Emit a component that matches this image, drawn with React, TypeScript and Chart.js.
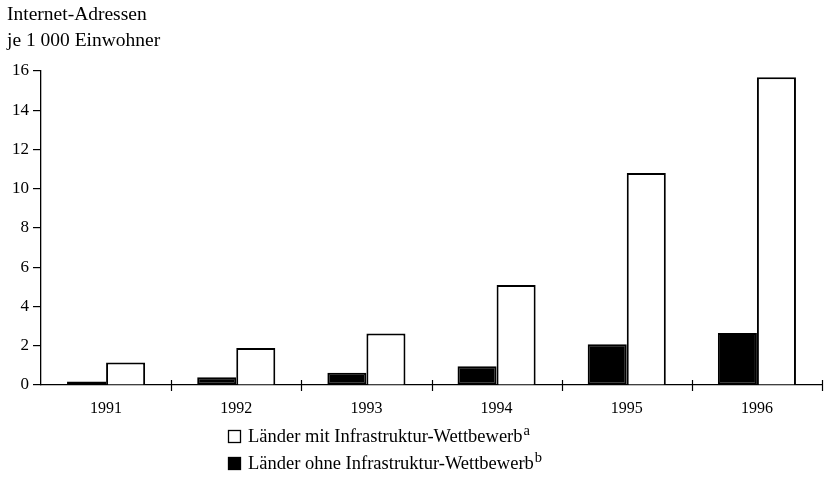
import React, { useEffect, useRef } from "react";
import { Chart, registerables } from "chart.js";

Chart.register(...registerables);

const years = ["1991", "1992", "1993", "1994", "1995", "1996"];
const ohneWettbewerb = [0.18, 0.4, 0.62, 0.95, 2.08, 2.65];
const mitWettbewerb = [1.15, 1.88, 2.62, 5.1, 10.8, 15.68];
const yTicks = [0, 2, 4, 6, 8, 10, 12, 14, 16];
const axisTitle = ["Internet-Adressen", "je 1 000 Einwohner"];
const legendItems = [
  { label: "Länder mit Infrastruktur-Wettbewerb", sup: "a", fill: "#ffffff" },
  { label: "Länder ohne Infrastruktur-Wettbewerb", sup: "b", fill: "#000000" },
];

const FONT = "'Liberation Serif', 'DejaVu Serif', serif";

const decorPlugin = {
  id: "decor",
  afterDraw(chart: any) {
    const ctx = chart.ctx;
    const x = chart.scales.x;
    const y = chart.scales.y;
    ctx.save();
    // x-axis category separators crossing the axis
    ctx.strokeStyle = "#000";
    ctx.lineWidth = 1.2;
    const y0 = y.getPixelForValue(0);
    const step = x.getPixelForValue(1) - x.getPixelForValue(0);
    for (let i = 1; i <= years.length; i++) {
      const px = i < years.length ? x.getPixelForValue(i - 1) + step / 2 : x.right;
      ctx.beginPath();
      ctx.moveTo(Math.round(px) + 0.5, y0 - 5);
      ctx.lineTo(Math.round(px) + 0.5, y0 + 6);
      ctx.stroke();
    }
    // axis title
    ctx.fillStyle = "#000";
    ctx.font = `19.5px ${FONT}`;
    ctx.textAlign = "left";
    ctx.textBaseline = "middle";
    ctx.fillText(axisTitle[0], 7, 15);
    ctx.fillText(axisTitle[1], 7, 41);
    // legend
    const lx = 228;
    const rows = [437, 464];
    legendItems.forEach((it, i) => {
      const cy = rows[i];
      ctx.fillStyle = it.fill;
      ctx.fillRect(lx, cy - 7, 13, 13);
      ctx.strokeStyle = "#000";
      ctx.lineWidth = 1.3;
      ctx.strokeRect(lx + 0.5, cy - 6.5, 12, 12);
      ctx.fillStyle = "#000";
      ctx.font = `18.5px ${FONT}`;
      ctx.textBaseline = "middle";
      ctx.fillText(it.label, lx + 20, cy);
      const w = ctx.measureText(it.label).width;
      ctx.font = `14.5px ${FONT}`;
      ctx.fillText(it.sup, lx + 20 + w + 1, cy - 6);
    });
    ctx.restore();
  },
};

export default function App() {
  const ref = useRef<HTMLCanvasElement>(null);
  useEffect(() => {
    document.body.style.margin = "0";
    const chart = new Chart(ref.current!, {
      type: "bar",
      data: {
        labels: years,
        datasets: [
          {
            label: "Länder ohne Infrastruktur-Wettbewerb",
            data: ohneWettbewerb,
            backgroundColor: "#000",
            borderColor: "#000",
            borderWidth: 2,
            borderSkipped: false,
          },
          {
            label: "Länder mit Infrastruktur-Wettbewerb",
            data: mitWettbewerb,
            backgroundColor: "#fff",
            borderColor: "#000",
            borderWidth: 2,
            borderSkipped: "bottom",
          },
        ],
      },
      options: {
        responsive: false,
        animation: false,
        layout: { padding: { top: 71, right: 2, left: 0, bottom: 0 } },
        plugins: { legend: { display: false }, tooltip: { enabled: false }, title: { display: false } },
        datasets: { bar: { categoryPercentage: 0.6, barPercentage: 1 } },
        scales: {
          x: {
            grid: { display: false, drawTicks: false },
            border: { display: true, color: "#000", width: 1.3 },
            ticks: { color: "#000", font: { family: FONT, size: 16 }, padding: 14 },
            afterFit(s: any) { s.height = 93; },
          },
          y: {
            min: 0,
            max: 16,
            afterBuildTicks(s: any) { s.ticks = yTicks.map((v) => ({ value: v })); },
            grid: { drawOnChartArea: false, drawTicks: true, tickLength: 8, color: "#000", lineWidth: 1.2 },
            border: { display: true, color: "#000", width: 1.3 },
            ticks: { color: "#000", font: { family: FONT, size: 17 }, padding: 4 },
            afterFit(s: any) { s.width = 41; },
          },
        },
      },
      plugins: [decorPlugin],
    });
    return () => chart.destroy();
  }, []);
  return <canvas ref={ref} width={824} height={478} style={{ display: "block" }} />;
}
